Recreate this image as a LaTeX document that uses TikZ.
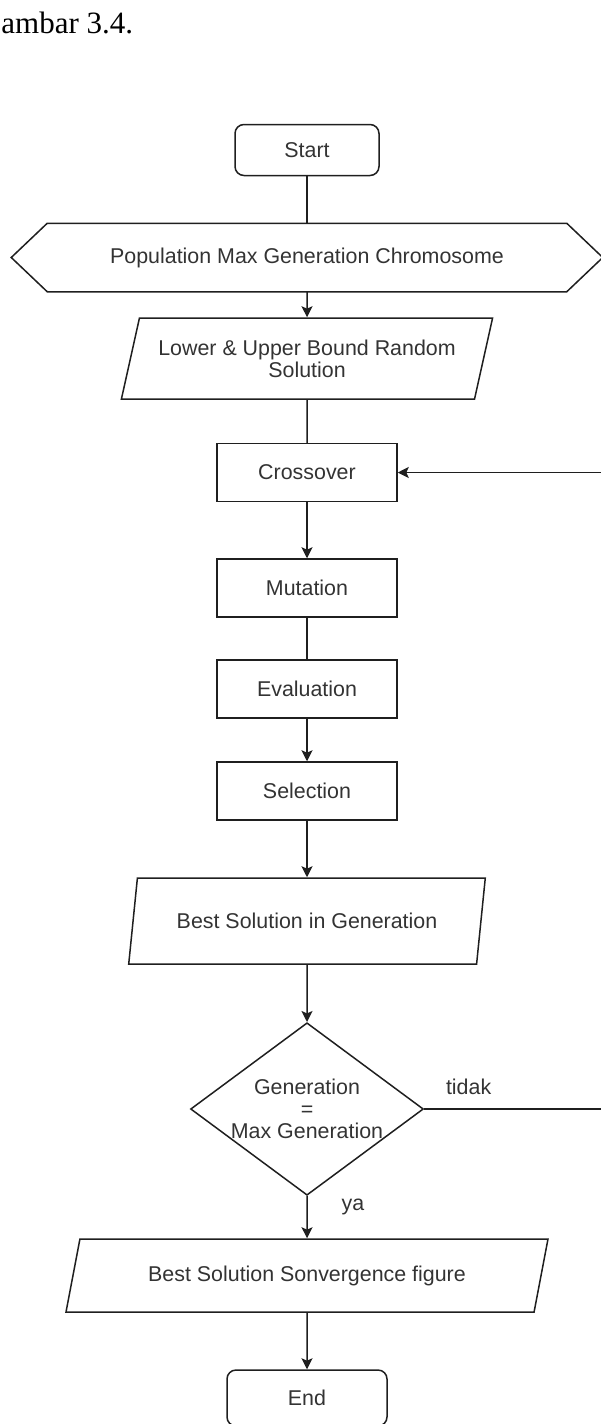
\documentclass[tikz,border=0pt]{standalone}
\usepackage{fontspec}
\setmainfont{Liberation Serif}
\setsansfont{Liberation Sans}
\usepackage{tikz}
\usetikzlibrary{calc,arrows.meta,positioning,shapes.geometric}

\begin{document}
\begin{tikzpicture}[x=0.5pt,y=-0.5pt]

  % Parameters
  \def\colx{307}
  \def\wproc{90pt}
  \def\hproc{29pt}
  \def\tipx{36}

  % Styles
  \tikzstyle{base}=[draw=black!88,line width=0.75pt,text=black!80,font=\sffamily\fontsize{10.7}{11}\selectfont,inner sep=0pt,align=center]
  \tikzstyle{line}=[draw=black!88,line width=0.75pt]
  \tikzstyle{flow}=[line,-{Stealth[length=5.5pt,width=5.5pt,inset=1.2pt]}]
  \tikzstyle{terminal}=[base,rounded corners=4.5pt,minimum width=72pt,minimum height=25.5pt]
  \tikzstyle{process}=[base,rectangle,minimum width=\wproc,minimum height=\hproc]
  \tikzstyle{io}=[base,trapezium,trapezium left angle=67,trapezium right angle=113,trapezium stretches=true]
  \tikzstyle{decision}=[base,diamond,aspect=1.35,minimum width=116pt,minimum height=86pt]
  \tikzstyle{lbl}=[text=black!80,font=\sffamily\fontsize{10.7}{11}\selectfont,inner sep=0pt]
  % hexagon: plain box, sides drawn after it
  \tikzstyle{prep}=[base,draw=none,minimum width=259pt,minimum height=33.5pt,append after command={\pgfextra \draw[line] (\tikzlastnode.north west) -- (\tikzlastnode.north east) -- ($(\tikzlastnode.east)+(\tipx,0)$) -- (\tikzlastnode.south east) -- (\tikzlastnode.south west) -- ($(\tikzlastnode.west)+(-\tipx,0)$) -- cycle; \endpgfextra}]

  % ===========================================================================

  \useasboundingbox (0,0) rectangle (600,1424);

  % Caption fragment
  \node[anchor=base west,inner sep=0pt,font=\rmfamily\fontsize{15.5}{18}\selectfont] (caption) at (1,33) {ambar 3.4.};

  % Draw nodes
  \node[terminal] (start) at (\colx,150) {Start};
  \node[prep] (init) at (\colx,257.5) {Population Max Generation Chromosome};
  \node[io,minimum width=186pt,minimum height=40.5pt] (bounds) at (\colx,358.5) {Lower \& Upper Bound Random\\Solution};
  \node[process] (cross) at (\colx,472.5) {Crossover};
  \node[process] (mut) at (\colx,588) {Mutation};
  \node[process] (eval) at (\colx,689) {Evaluation};
  \node[process] (sel) at (\colx,791) {Selection};
  \node[io,minimum width=178.5pt,minimum height=43pt] (best) at (\colx,921) {Best Solution in Generation};
  \node[decision] (check) at (\colx,1109) {Generation\\=\\Max Generation};
  \node[io,trapezium left angle=64,trapezium right angle=116,minimum width=241.5pt,minimum height=36.5pt] (figure) at (\colx,1275.5) {Best Solution Sonvergence figure};
  \node[terminal,minimum width=80pt,minimum height=28pt] (end) at (\colx,1398) {End};
  \coordinate (back) at (602,1109);

  % Draw connectors
  \draw[line] (start) -- (init);
  \draw[flow] (init) -- (bounds);
  \draw[line] (bounds) -- (cross);
  \draw[flow] (cross) -- (mut);
  \draw[line] (mut) -- (eval);
  \draw[flow] (eval) -- (sel);
  \draw[flow] (sel) -- (best);
  \draw[flow] (best) -- (check);
  \draw[flow] (check) -- node[lbl,pos=0.25,anchor=west,xshift=16.9pt] {ya} (figure);
  \draw[flow] (figure) -- (end);
  \draw[flow] (check) -- node[lbl,pos=0.25,above=7pt] {tidak} (back) |- (cross);

\end{tikzpicture}
\end{document}
